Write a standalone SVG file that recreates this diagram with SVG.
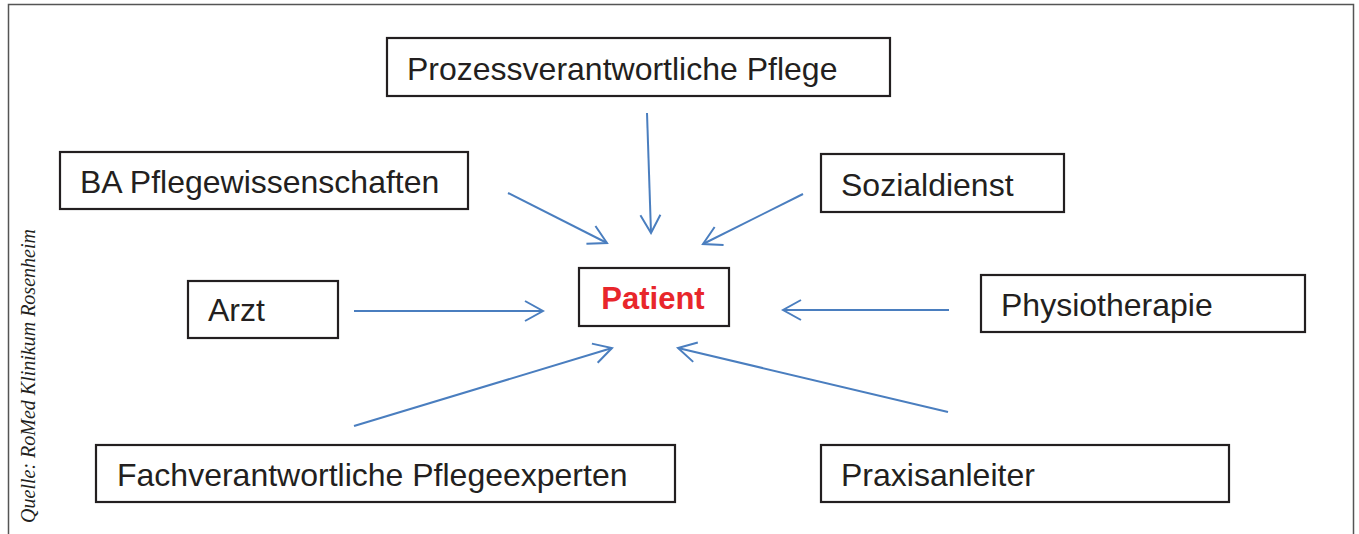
<svg xmlns="http://www.w3.org/2000/svg" width="1359" height="534" viewBox="0 0 1359 534">
<style>
.box{fill:#fff;stroke:#231f20;stroke-width:2.2}
.lbl{font-family:"Liberation Sans",Arial,sans-serif;font-size:32px;fill:#231f20}
.pat{font-family:"Liberation Sans",Arial,sans-serif;font-size:31px;font-weight:bold;fill:#e8262b}
.arr{stroke:#4a7ebf;stroke-width:2;fill:none;marker-end:url(#ah)}
.src{font-family:"Liberation Serif","Times New Roman",serif;font-style:italic;font-size:20px;fill:#231f20}
</style>
<defs>
<marker id="ah" markerUnits="userSpaceOnUse" viewBox="-20 -12 22 24" markerWidth="22" markerHeight="24" refX="0" refY="0" orient="auto">
<path d="M-18,-10 L0,0 L-18,10" fill="none" stroke="#4a7ebf" stroke-width="2"/>
</marker>
</defs>
<rect width="1359" height="534" fill="#fff"/>
<path d="M8.5,540 V4.5 H1353.5 V540" fill="none" stroke="#555" stroke-width="1.5"/>
<text class="src" transform="translate(35,376) rotate(-90)" text-anchor="middle">Quelle: RoMed Klinikum Rosenheim</text>
<g id="connectors">
<line class="arr" x1="647" y1="113" x2="651" y2="233"/>
<line class="arr" x1="508" y1="193" x2="607" y2="243"/>
<line class="arr" x1="803" y1="194" x2="703" y2="244"/>
<line class="arr" x1="354" y1="311" x2="543" y2="311"/>
<line class="arr" x1="949" y1="310" x2="783" y2="310"/>
<line class="arr" x1="354" y1="426" x2="612" y2="348"/>
<line class="arr" x1="948" y1="412" x2="678" y2="348"/>
</g>
<g id="prozess"><rect class="box" x="387" y="38" width="503" height="58"/><text class="lbl" x="407" y="80">Prozessverantwortliche Pflege</text></g>
<g id="ba"><rect class="box" x="60" y="152" width="408" height="57"/><text class="lbl" x="80" y="193">BA Pflegewissenschaften</text></g>
<g id="sozial"><rect class="box" x="821" y="154" width="243" height="58"/><text class="lbl" x="841" y="196">Sozialdienst</text></g>
<g id="patient"><rect class="box" x="579" y="268" width="150" height="58"/><text class="pat" x="653" y="309" text-anchor="middle">Patient</text></g>
<g id="arzt"><rect class="box" x="188" y="281" width="150" height="57"/><text class="lbl" x="208" y="321">Arzt</text></g>
<g id="physio"><rect class="box" x="981" y="275" width="324" height="57"/><text class="lbl" x="1001" y="316">Physiotherapie</text></g>
<g id="fach"><rect class="box" x="96" y="445" width="579" height="57"/><text class="lbl" x="117" y="486">Fachverantwortliche Pflegeexperten</text></g>
<g id="praxis"><rect class="box" x="821" y="445" width="408" height="57"/><text class="lbl" x="841" y="486">Praxisanleiter</text></g>
</svg>
